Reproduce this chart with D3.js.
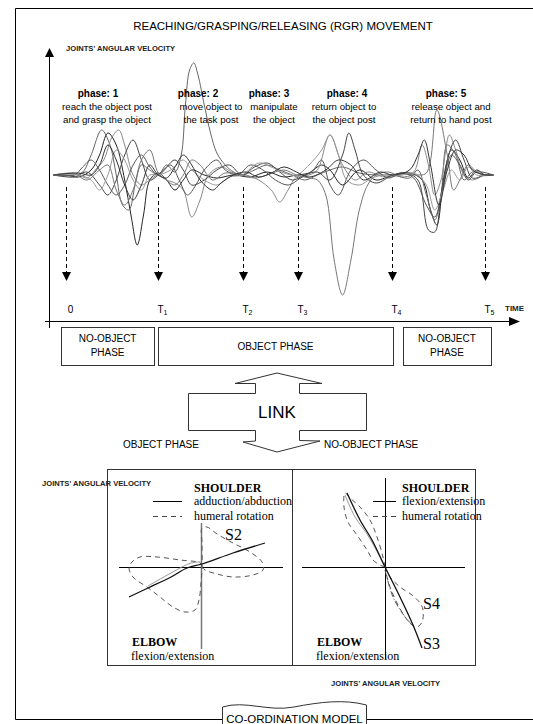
<!DOCTYPE html>
<html><head><meta charset="utf-8">
<script src="https://cdn.jsdelivr.net/npm/d3@7"></script>
<style>body{margin:0;background:#fff}svg{display:block}</style>
</head><body>
<svg id="c" width="533" height="724"></svg>
<script>
// ---------------- DATA ----------------
const title = "REACHING/GRASPING/RELEASING (RGR) MOVEMENT";
const yAxisLabel = "JOINTS' ANGULAR VELOCITY";
const timeAxisLabel = "TIME";
const tickLabels = [["0",""],["T","1"],["T","2"],["T","3"],["T","4"],["T","5"]];
const tickTimes = [0, 22, 42.2, 55.4, 77.8, 100];
const phaseTitles = ["phase: 1","phase: 2","phase: 3","phase: 4","phase: 5"];
const phaseLines = [
  ["reach the object post","and grasp the object"],
  ["move object to","the task post"],
  ["manipulate","the object"],
  ["return object to","the object post"],
  ["release object and","return to hand post"]
];
const phaseBoxes = [["NO-OBJECT","PHASE"],["OBJECT PHASE"],["NO-OBJECT","PHASE"]];
const linkLabel = "LINK";
const linkSides = ["OBJECT PHASE","NO-OBJECT PHASE"];
const modelLabel = "CO-ORDINATION MODEL";

// joint angular velocity traces: [time, velocity]
const trace1 = [[-3,0],[0,0],[3,-2],[6,5],[8,20],[10,42],[12,30],[14,-5],[15.5,-40],[17,-70],[18.5,-40],[20,-5],[22,2],[24,-5],[26,-15],[28,-5],[30,5],[33,0],[36,-3],[40,0],[44,-2],[48,3],[52,-2],[55,0],[58,2],[61,10],[63,5],[66,-10],[70,5],[74,-5],[78,0],[82,2],[85,-5],[87,-35],[88.5,-50],[90,-10],[92,25],[94,15],[96,-3],[98,5],[100,0],[102,0]];
const trace2 = [[-3,0],[2,0],[4,3],[6,20],[8.5,45],[10.5,30],[12,0],[13.5,-30],[15,-35],[16.5,-10],[18,10],[20,5],[22,0],[24,10],[26,3],[27.5,20],[28.5,70],[29.5,105],[30.5,112],[31.5,100],[33,70],[34.5,42],[36,22],[38,10],[40,3],[42,0],[45,5],[48,10],[51,5],[54,0],[57,-5],[60,0],[63,5],[66,8],[70,2],[74,0],[78,0],[82,-3],[84,5],[86,-20],[88,-45],[89.5,-20],[91,30],[93,20],[95,-5],[97,3],[100,0],[102,0]];
const trace3 = [[-3,0],[2,2],[5,-3],[7,5],[9,15],[11,38],[12.6,45],[14,30],[16,0],[18,-10],[20,-5],[22,0],[24,-5],[26,-8],[28,-15],[30,-42],[32,-25],[34,0],[37,8],[40,2],[43,0],[46,-5],[49,-15],[51,-27],[53,-15],[55,-2],[58,0],[60,5],[63,40],[66,10],[69,-5],[72,3],[76,-2],[80,0],[83,3],[85,30],[86.5,10],[88,-20],[89.5,-5],[91.5,40],[93,25],[95,0],[97,-5],[100,0],[102,0]];
const trace4 = [[-3,0],[2,-2],[5,3],[8,-10],[10,-20],[12,-5],[14,20],[16,35],[18,15],[20,-5],[22,0],[24,8],[26,15],[28,5],[30,-10],[33,-5],[36,5],[39,10],[42,0],[45,8],[48,12],[51,3],[54,-5],[57,0],[60,3],[63,-5],[66,20],[67.5,42],[69,25],[71,0],[74,-8],[78,0],[81,2],[84,-5],[86.5,-55],[88,-57],[89.5,-20],[91,15],[93,35],[95,15],[97,-3],[100,0],[102,0]];
const trace5 = [[-3,0],[2,1],[5,-5],[8,5],[10,10],[12,-15],[14,-30],[16,-15],[18,15],[20,25],[22,2],[24,-5],[26,-10],[28,0],[30,15],[32,10],[35,-5],[38,2],[42,0],[45,-3],[48,0],[52,5],[55,0],[58,-3],[60,-5],[62,-20],[64,-85],[66,-120],[68,-85],[70,-35],[72,-10],[74,0],[77,3],[80,-2],[83,0],[86,2],[88.5,65],[91,20],[92.5,-15],[94,-5],[96,10],[98,3],[100,0],[102,0]];
const trace6 = [[-3,0],[2,0],[4,8],[6,15],[8,5],[10,-10],[12,-20],[14,-10],[16,10],[18,20],[20,8],[22,0],[25,10],[27,-5],[29,-20],[31,-10],[33,5],[36,15],[38,5],[41,0],[44,10],[47,5],[50,-5],[53,-10],[56,-3],[59,5],[61,15],[63,-10],[65,-20],[68,5],[71,15],[74,5],[77,-3],[80,2],[83,-3],[86,-30],[88,-42],[90,-10],[92,20],[94,10],[96,-5],[98,3],[102,0]];
const trace7 = [[-3,0],[3,0],[6,-5],[8,-15],[10,0],[12,25],[14,15],[16,-5],[18,-15],[20,0],[22,0],[25,5],[28,15],[30,5],[33,-5],[36,-10],[39,-2],[42,0],[46,12],[49,8],[52,2],[55,0],[58,10],[61,25],[63,40],[65,20],[67,-5],[70,-10],[73,-3],[76,0],[80,0],[83,2],[86,-10],[88,-35],[90,-15],[92,5],[94,-5],[96,8],[98,0],[102,0]];
const trace8 = [[-3,0],[3,2],[6,0],[8,10],[10,30],[12,15],[14,-10],[16,-25],[18,-10],[20,10],[22,0],[24,-3],[26,8],[28,20],[30,10],[32,-5],[35,-15],[37,-8],[40,0],[43,3],[46,-2],[49,2],[52,8],[55,3],[58,-2],[62,5],[65,15],[68,10],[71,-5],[75,3],[78,0],[82,5],[84,20],[85.5,35],[87,10],[89,-30],[91,5],[93,25],[95,20],[97,5],[100,0],[102,0]];
const traces = [trace1,trace2,trace3,trace4,trace5,trace6,trace7,trace8];
const traceColors = ["#222","#666","#888","#444","#777","#555","#999","#333"];

// phase-plane portraits: [elbow velocity, shoulder velocity]
const objShoulderAdd = [[-72,-30],[-53,-21],[-30,-10],[-14,-1],[1,3],[32,14],[64,24]];
const objShoulderAdd2 = [[-53,-19],[-30,-6],[-10,4],[0,5]];
const objHumeral = [[1,0],[-1,4],[-21,7],[-44,10],[-61,10],[-69,5],[-72,-1],[-68,-10],[-54,-20],[-41,-30],[-28,-40],[-16,-45],[-6,-43],[-2,-33],[0,-16],[1,0],[1,24],[1,39],[6,40],[16,33],[32,24],[49,15],[61,5],[62,-3],[52,-8],[32,-10],[16,-7],[4,-3],[1,0]];
const noObjShoulderFlex = [[-38,74],[-25,47],[-13,27],[0,0],[15,-30],[28,-58],[37,-81]];
const noObjShoulderFlex2 = [[-40,72],[-30,50],[-18,33],[-5,10],[0,0]];
const noObjHumeralUp = [[0,0],[-5,2],[-12,7],[-18,17],[-28,32],[-37,45],[-41,60],[-40,74],[-35,69],[-25,60],[-15,47],[-8,30],[-2,10],[0,0]];
const noObjHumeralDown = [[0,0],[5,-10],[15,-20],[27,-28],[35,-36],[38,-43],[37,-55],[32,-60],[27,-58],[20,-50],[12,-36],[5,-20],[1,-6]];
const noObjDashDot = [[0,-3],[8,-30],[18,-47],[27,-58]];

// ---------------- DRAW ----------------
const svg = d3.select("#c");
const SANS = "'Liberation Sans', Arial, sans-serif";
const SERIF = "'Liberation Serif', 'Times New Roman', serif";

// outer frame
svg.append("path").attr("d","M533,8.5H15.5V719.5H222 M367,719.5H533").attr("stroke","#000").attr("fill","none");

svg.append("text").attr("x",283).attr("y",30).attr("text-anchor","middle")
  .attr("font-family",SANS).attr("font-size",11.5).text(title);

// scales
const x = d3.scaleLinear().domain([0,100]).range([66,485]);
const y = d3.scaleLinear().domain([-120,120]).range([295,55]);

// axes
svg.append("line").attr("x1",49.5).attr("x2",49.5).attr("y1",57).attr("y2",328).attr("stroke","#000");
svg.append("path").attr("d","M45,57L49.5,48L54,57Z").attr("fill","#000");
svg.append("line").attr("x1",45).attr("x2",509).attr("y1",321.5).attr("y2",321.5).attr("stroke","#000");
svg.append("path").attr("d","M509,317L520,321.5L509,326Z").attr("fill","#000");
svg.append("text").attr("x",66).attr("y",51).attr("font-family",SANS).attr("font-size",7.6)
  .attr("font-weight","bold").attr("fill","#222").text(yAxisLabel);
svg.append("text").attr("x",505).attr("y",311).attr("font-family",SANS).attr("font-size",8)
  .attr("font-weight","bold").attr("fill","#222").text(timeAxisLabel);

// traces
const line = d3.line().x(d=>x(d[0])).y(d=>y(d[1])).curve(d3.curveCatmullRom.alpha(0.5));
svg.append("g").selectAll("path").data(traces).join("path")
  .attr("d",line).attr("fill","none").attr("stroke",(d,i)=>traceColors[i]).attr("stroke-width",1);

// phase labels
const titleX = [98,198,269,347,446];
const linesX = [107,211,274,344,451];
const pt = svg.append("g").attr("font-family",SANS).attr("fill","#000");
phaseTitles.forEach((t,i)=>{
  pt.append("text").attr("x",titleX[i]).attr("y",97).attr("text-anchor","middle")
    .attr("font-size",10).attr("font-weight","bold").text(t);
  phaseLines[i].forEach((l,j)=>{
    pt.append("text").attr("x",linesX[i]).attr("y",110+j*13).attr("text-anchor","middle")
      .attr("font-size",9.7).text(l);
  });
});

// dashed time markers
const mk = svg.append("g");
tickTimes.forEach((t,i)=>{
  const xx = Math.round(x(t))+0.5;
  mk.append("line").attr("x1",xx).attr("x2",xx).attr("y1",187).attr("y2",272)
    .attr("stroke","#000").attr("stroke-dasharray","4,3");
  mk.append("path").attr("d",`M${xx-4.5},272L${xx+4.5},272L${xx},281Z`).attr("fill","#000");
  const tx = mk.append("text").attr("x",xx+4).attr("y",313).attr("text-anchor","middle")
    .attr("font-family",SANS).attr("font-size",10);
  tx.append("tspan").text(tickLabels[i][0]);
  if (tickLabels[i][1]) tx.append("tspan").attr("font-size",7).attr("dy",2).text(tickLabels[i][1]);
});

// phase boxes
const boxX = [[x(tickTimes[0])-5, x(tickTimes[1])-4],[x(tickTimes[1]), x(tickTimes[4])+1],[x(tickTimes[4])+11, x(tickTimes[5])+6]];
const bx = svg.append("g").attr("font-family",SANS).attr("font-size",10);
phaseBoxes.forEach((lab,i)=>{
  const [a,b] = boxX[i];
  bx.append("rect").attr("x",Math.round(a)+0.5).attr("y",327.5).attr("width",Math.round(b-a)).attr("height",38)
    .attr("fill","#fff").attr("stroke","#333");
  lab.forEach((l,j)=>{
    bx.append("text").attr("x",(a+b)/2).attr("text-anchor","middle")
      .attr("y", lab.length===1 ? 350 : 342+j*14).text(l);
  });
});

// LINK double arrow
svg.append("path").attr("d","M235,383.5L277,373L322,383.5L299.5,383.5V393.5H366.5V430.5H299.5V440.5L320,441L277,452L243,442L255.5,441V430.5H188.5V393.5H255.5V383.5Z")
  .attr("fill","#fff").attr("stroke","#333");
svg.append("text").attr("x",277).attr("y",418).attr("text-anchor","middle")
  .attr("font-family",SANS).attr("font-size",17).text(linkLabel);
svg.append("text").attr("x",123).attr("y",448).attr("font-family",SANS).attr("font-size",10).text(linkSides[0]);
svg.append("text").attr("x",324).attr("y",448).attr("font-family",SANS).attr("font-size",10).text(linkSides[1]);

// co-ordination panels
svg.append("rect").attr("x",107.5).attr("y",469.5).attr("width",368).attr("height",196)
  .attr("fill","none").attr("stroke","#333");
svg.append("line").attr("x1",292.5).attr("x2",292.5).attr("y1",469).attr("y2",666).attr("stroke","#333");
svg.append("text").attr("x",42).attr("y",486).attr("font-family",SANS).attr("font-size",7.6)
  .attr("font-weight","bold").attr("fill","#222").text(yAxisLabel);
svg.append("text").attr("x",331).attr("y",686).attr("font-family",SANS).attr("font-size",7.6)
  .attr("font-weight","bold").attr("fill","#222").text(yAxisLabel);

function panel(cx, cy, opts){
  const px = d3.scaleLinear().domain([-100,100]).range([cx-100,cx+100]);
  const py = d3.scaleLinear().domain([-100,100]).range([cy+100,cy-100]);
  const g = svg.append("g");
  g.append("line").attr("x1",opts.h[0]).attr("x2",opts.h[1]).attr("y1",cy+0.5).attr("y2",cy+0.5).attr("stroke","#000");
  g.append("line").attr("x1",cx+0.5).attr("x2",cx+0.5).attr("y1",opts.v[0]).attr("y2",opts.v[1])
    .attr("stroke",opts.vColor).attr("stroke-width",opts.vWidth);
  const ln = d3.line().x(d=>px(d[0])).y(d=>py(d[1])).curve(d3.curveCatmullRom.alpha(0.5));
  opts.curves.forEach(c=>{
    g.append("path").attr("d",ln(c.data)).attr("fill","none").attr("stroke",c.color)
      .attr("stroke-width",c.w||1).attr("stroke-dasharray",c.dash||null);
  });
  const t = g.append("g").attr("font-family",SERIF).attr("font-size",12);
  t.append("text").attr("x",opts.lx).attr("y",492).attr("font-weight","bold").text("SHOULDER");
  t.append("text").attr("x",opts.lx).attr("y",505).text(opts.solidLabel);
  t.append("text").attr("x",opts.lx).attr("y",520).text("humeral rotation");
  g.append("line").attr("x1",opts.leg[0]).attr("x2",opts.leg[1]).attr("y1",501.5).attr("y2",501.5).attr("stroke","#000");
  g.append("line").attr("x1",opts.leg[0]).attr("x2",opts.leg[1]).attr("y1",516.5).attr("y2",516.5).attr("stroke","#444").attr("stroke-dasharray","5,4");
  t.append("text").attr("x",opts.ex).attr("y",646).attr("font-weight","bold").text("ELBOW");
  t.append("text").attr("x",opts.ex-1).attr("y",660).text("flexion/extension");
  opts.tags.forEach(s=>{
    t.append("text").attr("x",s[1]).attr("y",s[2]).attr("font-size",16).text(s[0]);
  });
}
panel(201,567,{
  h:[119,283], v:[523,649], vColor:"#777", vWidth:1.5, lx:194, leg:[153,182], ex:132, solidLabel:"adduction/abduction",
  curves:[
    {data:objHumeral,color:"#555",dash:"5,4"},
    {data:objShoulderAdd2,color:"#999"},
    {data:objShoulderAdd,color:"#111",w:1.3}
  ],
  tags:[["S2",225,540]]
});
panel(385,567,{
  h:[302,465], v:[478,659], vColor:"#000", vWidth:1, lx:402, leg:[373,396], ex:317, solidLabel:"flexion/extension",
  curves:[
    {data:noObjHumeralUp,color:"#555",dash:"5,4"},
    {data:noObjHumeralDown,color:"#555",dash:"5,4"},
    {data:noObjDashDot,color:"#555",dash:"6,2,1,2"},
    {data:noObjShoulderFlex2,color:"#999"},
    {data:noObjShoulderFlex,color:"#111",w:1.3}
  ],
  tags:[["S4",423,609],["S3",423,649]]
});

// co-ordination model label box
svg.append("path").attr("d","M222.5,726V707C245,700 268,712 294,707C320,702 344,699 366.5,705V726")
  .attr("fill","#fff").attr("stroke","#333");
svg.append("text").attr("x",294.5).attr("y",723).attr("text-anchor","middle")
  .attr("font-family",SANS).attr("font-size",11.5).text(modelLabel);
</script>
</body></html>
